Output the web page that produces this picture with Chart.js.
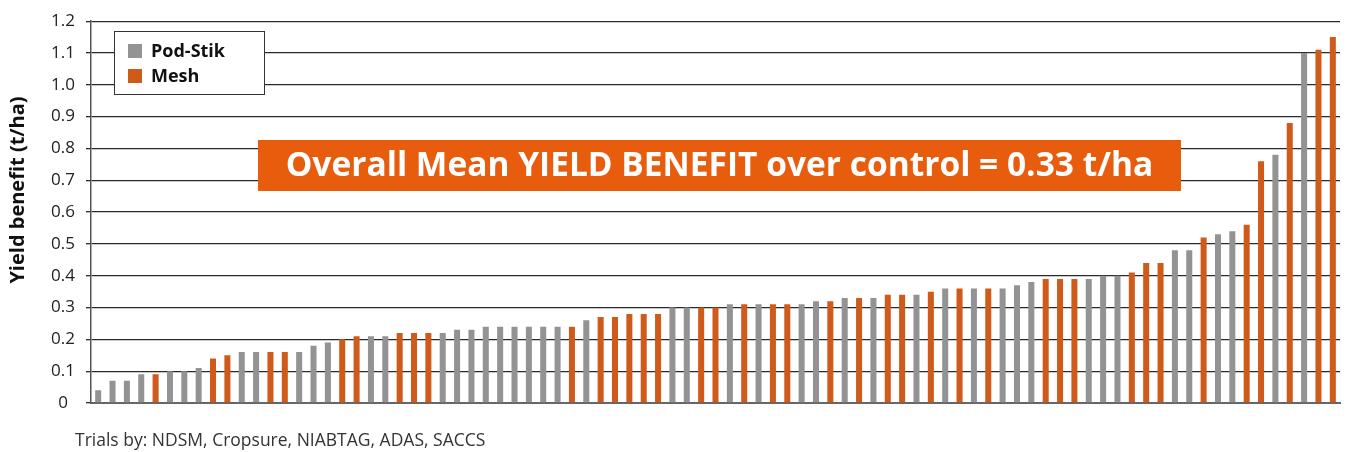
<!DOCTYPE html>
<html>
<head>
<meta charset="utf-8">
<script src="https://cdn.jsdelivr.net/npm/chart.js@4.4.1/dist/chart.umd.min.js"></script>
<style>
  html, body { margin: 0; padding: 0; background: #fff; }
  #wrap { width: 1350px; height: 452px; }
</style>
</head>
<body>
<div id="wrap"><canvas id="chart" width="1350" height="452"></canvas></div>
<script>
// one value per trial, sorted smallest to largest
const trials = Array.from({ length: 87 }, (_, i) => 'Trial ' + (i + 1));

const yieldBenefit = [
  0.04, 0.07, 0.07, 0.09, 0.09, 0.10, 0.10, 0.11, 0.14, 0.15,
  0.16, 0.16, 0.16, 0.16, 0.16, 0.18, 0.19, 0.20, 0.21, 0.21,
  0.21, 0.22, 0.22, 0.22, 0.22, 0.23, 0.23, 0.24, 0.24, 0.24,
  0.24, 0.24, 0.24, 0.24, 0.26, 0.27, 0.27, 0.28, 0.28, 0.28,
  0.30, 0.30, 0.30, 0.30, 0.31, 0.31, 0.31, 0.31, 0.31, 0.31,
  0.32, 0.32, 0.33, 0.33, 0.33, 0.34, 0.34, 0.34, 0.35, 0.36,
  0.36, 0.36, 0.36, 0.36, 0.37, 0.38, 0.39, 0.39, 0.39, 0.39,
  0.40, 0.40, 0.41, 0.44, 0.44, 0.48, 0.48, 0.52, 0.53, 0.54,
  0.56, 0.76, 0.78, 0.88, 1.10, 1.11, 1.15
];

// P = Pod-Stik, M = Mesh
const method = [
  'P','P','P','P','M','P','P','P','M','M',
  'P','P','M','M','P','P','P','M','M','P',
  'P','M','M','M','P','P','P','P','P','P',
  'P','P','P','M','P','M','M','M','M','M',
  'P','P','M','M','P','M','P','M','M','P',
  'P','M','P','M','P','M','M','P','M','P',
  'M','P','M','P','P','P','M','M','M','P',
  'P','P','M','M','M','P','P','M','P','P',
  'M','M','P','M','P','M','M'
];

const yTicks = [0, 0.1, 0.2, 0.3, 0.4, 0.5, 0.6, 0.7, 0.8, 0.9, 1.0, 1.1, 1.2];

const seriesNames = ['Pod-Stik', 'Mesh'];
const seriesCodes = ['P', 'M'];
const seriesColors = ['#939393', '#D05A1A'];

const meanText = 'Overall Mean YIELD BENEFIT over control = 0.33 t/ha';
const yTitle = 'Yield benefit (t/ha)';
const footer = 'Trials by: NDSM, Cropsure, NIABTAG, ADAS, SACCS';

const FONT = '"Open Sans", Lato, sans-serif';

const datasets = seriesNames.map((name, s) => ({
  label: name,
  data: yieldBenefit.map((v, i) => method[i] === seriesCodes[s] ? v : null),
  backgroundColor: seriesColors[s],
  borderWidth: 0,
  grouped: false,
  barPercentage: 0.42,
  categoryPercentage: 1
}));

// pick a font size so the text is about as wide as in the original
function fitFont(ctx, text, weight, width, maxSize) {
  ctx.font = weight + ' 20px ' + FONT;
  let size = 20 * width / ctx.measureText(text).width;
  if (size > maxSize) size = maxSize;
  ctx.font = weight + ' ' + size.toFixed(1) + 'px ' + FONT;
}

const extras = {
  id: 'extras',
  afterDatasetsDraw(chart) {
    const ctx = chart.ctx;
    ctx.save();

    // mean label box
    ctx.fillStyle = '#E85C0D';
    ctx.fillRect(258, 140, 923, 51);
    ctx.fillStyle = '#ffffff';
    fitFont(ctx, meanText, 'bold', 878, 33.5);
    ctx.textAlign = 'center';
    ctx.textBaseline = 'middle';
    ctx.fillText(meanText, 258 + 923 / 2, 166);

    // legend
    ctx.fillStyle = '#ffffff';
    ctx.fillRect(114.5, 31.5, 150, 63);
    ctx.strokeStyle = '#333';
    ctx.lineWidth = 1;
    ctx.strokeRect(114.5, 31.5, 150, 63);
    chart.data.datasets.forEach((ds, i) => {
      const y = 51 + i * 25;
      ctx.fillStyle = ds.backgroundColor;
      ctx.fillRect(128, y - 7, 14, 14);
      ctx.fillStyle = '#111';
      ctx.font = 'bold 18px ' + FONT;
      ctx.textAlign = 'left';
      ctx.fillText(ds.label, 151, y + 1);
    });

    // y axis title
    ctx.save();
    ctx.translate(18, 190);
    ctx.rotate(-Math.PI / 2);
    ctx.fillStyle = '#111';
    fitFont(ctx, yTitle, 'bold', 220, 20);
    ctx.textAlign = 'center';
    ctx.fillText(yTitle, 0, 0);
    ctx.restore();

    // source line
    ctx.fillStyle = '#333';
    fitFont(ctx, footer, 'normal', 448, 17.5);
    ctx.textAlign = 'left';
    ctx.fillText(footer, 75, 441);

    ctx.restore();
  }
};

new Chart(document.getElementById('chart'), {
  type: 'bar',
  data: { labels: trials, datasets: datasets },
  options: {
    responsive: false,
    animation: false,
    layout: { padding: { top: 17, bottom: 49, right: 10, left: 0 } },
    plugins: {
      legend: { display: false },
      tooltip: { enabled: false }
    },
    scales: {
      x: {
        ticks: { display: false },
        grid: { display: false, drawTicks: false },
        border: { color: '#666', width: 2 }
      },
      y: {
        min: 0,
        max: 1.2,
        afterFit(scale) { scale.width = 91; },
        afterBuildTicks(scale) { scale.ticks = yTicks.map(v => ({ value: v })); },
        ticks: {
          crossAlign: 'center',
          padding: 11,
          color: '#222',
          font: { family: FONT, size: 17 },
          callback: v => v === 0 ? '0' : v.toFixed(1)
        },
        grid: { color: '#2a2a2a', lineWidth: 1.3, tickLength: 5 },
        border: { color: '#555', width: 1.5 }
      }
    }
  },
  plugins: [extras]
});
</script>
</body>
</html>
